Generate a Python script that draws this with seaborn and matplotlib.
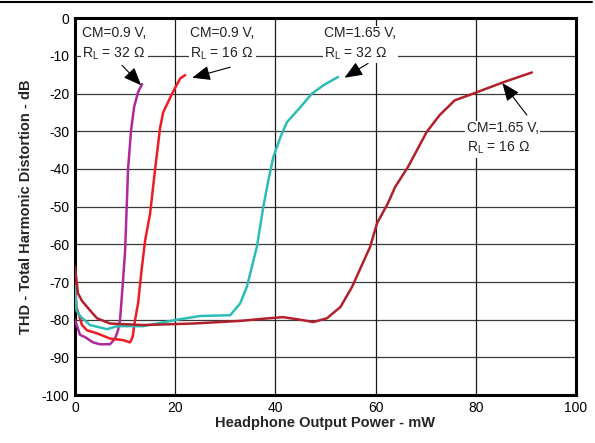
import matplotlib
matplotlib.use('Agg')
import matplotlib.pyplot as plt
import seaborn as sns
import pandas as pd
from matplotlib.lines import Line2D

# CM=0.9 V, RL=32 ohm
p32_x = [0, 1, 2, 3.6, 5, 7, 8, 8.6, 9, 9.4, 10, 10.6, 11.2, 11.8, 12.6, 13.4]
p32_y = [-80, -84, -84.6, -86, -86.5, -86.5, -85, -82.8, -80, -73, -62, -40, -29.7, -23.6, -19.6, -17.5]

# CM=0.9 V, RL=16 ohm
p16_x = [0, 0.3, 1.4, 2.4, 4.4, 7, 9.6, 11, 11.5, 12, 12.6, 13.3, 14, 15, 16, 17, 17.6, 19.4, 21, 22]
p16_y = [-70, -76.6, -81.4, -82.8, -83.6, -85, -85.4, -86, -84.6, -80, -75.6, -66.8, -59, -51.8, -40, -29,
         -25, -20, -16, -15.1]

# CM=1.65 V, RL=32 ohm
h32_x = [0, 0.3, 1, 3, 6.4, 8.4, 13.6, 20.3, 25, 31, 33, 34.3, 35, 36.3, 37.6, 38.6, 39.6, 41, 42.3, 45,
         47.3, 49.6, 52.5]
h32_y = [-71, -77.5, -79, -81.4, -82.5, -81.7, -81.7, -80, -79, -78.8, -75.6, -71.3, -67.6, -60.7, -50, -43,
         -36.8, -31.6, -27.6, -23.6, -20, -17.8, -15.6]

# CM=1.65 V, RL=16 ohm
h16_x = [0, 0.6, 1.4, 3, 4.4, 7, 13.6, 23.6, 33, 37, 41.5, 45, 47.6, 50.3, 53, 55.3, 58.9, 60.3, 62.5, 63.9,
         66.5, 70.2, 72.8, 75.8, 79.5, 85.5, 91.2]
h16_y = [-66, -73, -75, -77.5, -79.6, -81, -81.4, -81, -80.3, -79.8, -79.3, -80, -80.6, -79.6, -76.6, -71.3,
         -60.7, -54.4, -49, -44.8, -39.4, -30.2, -25.7, -21.8, -20, -17, -14.4]

colors = {'p32': '#B1279C', 'p16': '#EE1C25', 'h32': '#2BBDB6', 'h16': '#B0202D'}

frames = []
for name, xs, ys in [('p32', p32_x, p32_y), ('p16', p16_x, p16_y),
                     ('h32', h32_x, h32_y), ('h16', h16_x, h16_y)]:
    frames.append(pd.DataFrame({'power': xs, 'thd': ys, 'curve': name}))
df = pd.concat(frames, ignore_index=True)

sns.set_style('white')
plt.rcParams['font.family'] = ['Liberation Sans', 'DejaVu Sans']
plt.rcParams['axes.unicode_minus'] = False

fig = plt.figure(figsize=(5.95, 4.43), dpi=100)
ax = fig.add_axes([0.126, 0.108, 0.842, 0.851])

# grid
for v in range(-90, 0, 10):
    ax.axhline(v, color='#3a3a3a', lw=0.9, zorder=1)
for v in [20, 40, 60, 80]:
    ax.axvline(v, color='#1a1a1a', lw=0.9, zorder=1)

sns.lineplot(data=df, x='power', y='thd', hue='curve', palette=colors, sort=False,
             estimator=None, units='curve', lw=1.8, legend=False, ax=ax, zorder=3)

ax.set_xlim(0, 100)
ax.set_ylim(-100, 0)
ax.set_xticks(range(0, 101, 20))
ax.set_yticks(range(-100, 1, 10))
ax.tick_params(length=0, labelsize=10, colors='black', pad=4)
for s in ax.spines.values():
    s.set_linewidth(2.2)
    s.set_color('black')
ax.set_xlabel('Headphone Output Power - mW', fontsize=10.5, fontweight='bold', labelpad=1)
ax.set_ylabel('THD - Total Harmonic Distortion - dB', fontsize=10.5, fontweight='bold', labelpad=6)

box = dict(facecolor='white', edgecolor='none', pad=1)
labels = [
    ('CM=0.9 V,\nR$_\\mathregular{L}$ = 32 \u03a9', 1.4, -2.2, (13.2, -17.8), (9.4, -12.5)),
    ('CM=0.9 V,\nR$_\\mathregular{L}$ = 16 \u03a9', 23.0, -2.2, (23.4, -15.8), (31.0, -13.0)),
    ('CM=1.65 V,\nR$_\\mathregular{L}$ = 32 \u03a9', 49.8, -2.2, (53.8, -15.8), (58.5, -12.0)),
    ('CM=1.65 V,\nR$_\\mathregular{L}$ = 16 \u03a9', 78.2, -27.3, (85.3, -17.2), (90.2, -25.7)),
]
for txt, tx, ty, head, tail in labels:
    ax.text(tx, ty, txt, fontsize=10, ha='left', va='top', linespacing=1.4,
            bbox=box, zorder=4, color='#222222')
    ax.annotate('', xy=head, xytext=tail,
                arrowprops=dict(arrowstyle='-|>,head_length=1.1,head_width=0.45',
                                color='black', lw=0.8, shrinkA=0, shrinkB=0), zorder=5)

fig.add_artist(Line2D([0, 0.995], [0.995, 0.995], transform=fig.transFigure, color='black', lw=1.5))

fig.savefig('out.png', dpi=100)
